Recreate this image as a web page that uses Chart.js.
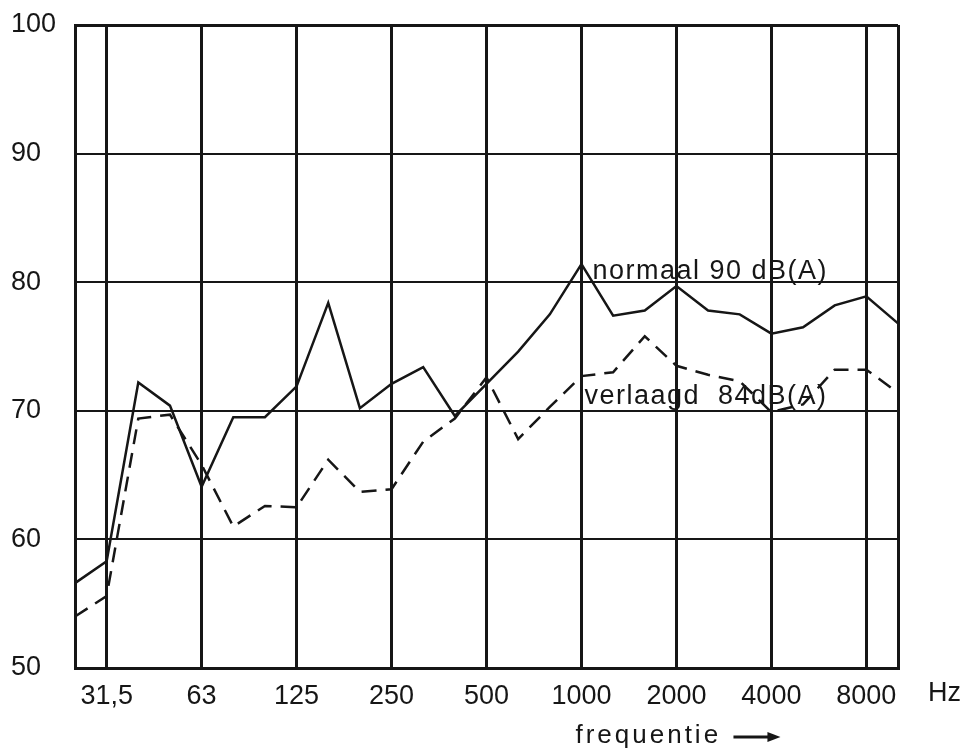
<!DOCTYPE html>
<html>
<head>
<meta charset="utf-8">
<title>normaal / verlaagd</title>
<script src="https://cdn.jsdelivr.net/npm/chart.js@4/dist/chart.umd.min.js"></script>
<style>
  html, body { margin: 0; padding: 0; background: #fff; }
  #wrap { width: 971px; height: 748px; }
</style>
</head>
<body>
<div id="wrap"><canvas id="spectrumChart" width="971" height="748"></canvas></div>
<script>
// third-octave bands, 25 Hz .. 10 kHz
var bands = ['25', '31,5', '40', '50', '63', '80', '100', '125', '160', '200', '250', '315', '400',
             '500', '630', '800', '1000', '1250', '1600', '2000', '2500', '3150', '4000', '5000',
             '6300', '8000', '10000'];
// only the octave bands get a label and a vertical line
var octaveBands = ['31,5', '63', '125', '250', '500', '1000', '2000', '4000', '8000'];

// normaal 90 dB(A)
var normaal = [56.6, 58.3, 72.2, 70.4, 64.1, 69.5, 69.5, 71.9, 78.4, 70.2, 72.1, 73.4, 69.6,
               72.1, 74.6, 77.5, 81.4, 77.4, 77.8, 79.7, 77.8, 77.5, 76.0, 76.5, 78.2, 78.9, 76.8];
// verlaagd 84 dB(A)
var verlaagd = [54.0, 55.6, 69.4, 69.7, 65.8, 61.0, 62.6, 62.5, 66.2, 63.7, 63.9, 67.6, 69.4,
                72.6, 67.8, 70.3, 72.7, 73.0, 75.8, 73.5, 72.8, 72.3, 69.9, 70.5, 73.2, 73.2, 71.4];

var yTicks = [50, 60, 70, 80, 90, 100];

var ink = '#161616';
var font = '"Liberation Sans", Arial, sans-serif';

function isOctave(i) {
    return octaveBands.indexOf(bands[i]) !== -1;
}

// free texts: curve names, Hz unit and the axis caption with its arrow
var chartTexts = {
    id: 'chartTexts',
    afterDraw: function (chart) {
        var ctx = chart.ctx;
        var x = chart.scales.x;
        var y = chart.scales.y;
        var kHz = x.getPixelForValue(16);
        ctx.save();
        ctx.fillStyle = ink;
        ctx.strokeStyle = ink;
        ctx.textBaseline = 'alphabetic';
        ctx.textAlign = 'left';
        ctx.font = '27px ' + font;
        ctx.letterSpacing = '1.5px';
        ctx.fillText('normaal 90 dB(A)', kHz + 11, y.getPixelForValue(80) - 3);
        ctx.fillText('verlaagd  84dB(A)', kHz + 3, y.getPixelForValue(70) - 7);
        ctx.letterSpacing = '0px';

        ctx.textBaseline = 'top';
        ctx.fillText('Hz', chart.chartArea.right + 30, chart.chartArea.bottom + 12);

        ctx.textBaseline = 'alphabetic';
        ctx.font = '26px ' + font;
        ctx.letterSpacing = '3px';
        ctx.fillText('frequentie', kHz - 6, 743);
        ctx.letterSpacing = '0px';

        // arrow
        var ax0 = kHz + 152, ax1 = kHz + 199, ay = 737;
        ctx.lineWidth = 3;
        ctx.beginPath();
        ctx.moveTo(ax0, ay);
        ctx.lineTo(ax1 - 8, ay);
        ctx.stroke();
        ctx.beginPath();
        ctx.moveTo(ax1, ay);
        ctx.lineTo(ax1 - 13, ay - 5);
        ctx.lineTo(ax1 - 13, ay + 5);
        ctx.closePath();
        ctx.fill();
        ctx.restore();
    }
};

document.addEventListener('DOMContentLoaded', function () {
    var ctx = document.getElementById('spectrumChart').getContext('2d');
    new Chart(ctx, {
        type: 'line',
        data: {
            labels: bands,
            datasets: [{
                label: 'normaal 90 dB(A)',
                data: normaal,
                borderColor: ink,
                borderWidth: 2.5,
                pointRadius: 0,
                tension: 0,
                fill: false
            }, {
                label: 'verlaagd 84 dB(A)',
                data: verlaagd,
                borderColor: ink,
                borderWidth: 2.5,
                borderDash: [15, 9],
                pointRadius: 0,
                tension: 0,
                fill: false
            }]
        },
        options: {
            responsive: false,
            animation: false,
            layout: { padding: { left: 11, top: 25, right: 73, bottom: 0 } },
            plugins: {
                legend: { display: false },
                tooltip: { enabled: false }
            },
            scales: {
                x: {
                    type: 'category',
                    offset: false,
                    border: { color: ink, width: 3 },
                    grid: {
                        drawTicks: false,
                        color: function (c) {
                            var i = c.index;
                            return (isOctave(i) || i === 0 || i === bands.length - 1) ? ink : 'rgba(0,0,0,0)';
                        },
                        lineWidth: 3
                    },
                    ticks: {
                        autoSkip: false,
                        maxRotation: 0,
                        padding: 12,
                        color: ink,
                        font: { family: font, size: 27 },
                        callback: function (val, i) {
                            return isOctave(i) ? bands[i] : '';
                        }
                    },
                    afterFit: function (scale) { scale.height = 80; }
                },
                y: {
                    min: yTicks[0],
                    max: yTicks[yTicks.length - 1],
                    border: { color: ink, width: 3 },
                    grid: {
                        drawTicks: false,
                        color: ink,
                        lineWidth: function (c) {
                            var v = c.tick ? c.tick.value : 0;
                            return (v === yTicks[0] || v === yTicks[yTicks.length - 1]) ? 3 : 2;
                        }
                    },
                    afterBuildTicks: function (scale) {
                        scale.ticks = yTicks.map(function (v) { return { value: v }; });
                    },
                    ticks: {
                        crossAlign: 'far',
                        color: ink,
                        font: { family: font, size: 27 },
                        callback: function (v) { return String(v); }
                    },
                    afterFit: function (scale) { scale.width = 64; }
                }
            }
        },
        plugins: [chartTexts]
    });
});
</script>
</body>
</html>
